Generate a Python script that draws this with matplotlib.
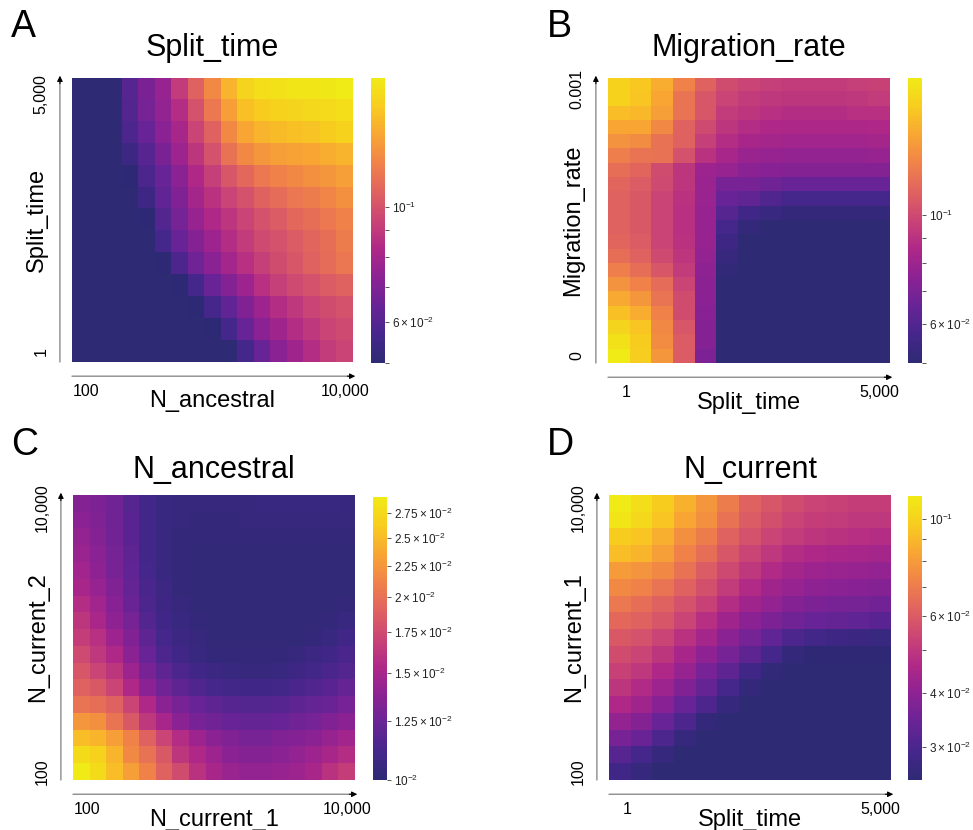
import numpy as np
import matplotlib
matplotlib.use("Agg")
import matplotlib.pyplot as plt
from matplotlib.colors import LogNorm, LinearSegmentedColormap

plt.rcParams['font.family'] = ['Liberation Sans', 'DejaVu Sans']
plt.rcParams['mathtext.fontset'] = 'dejavusans'

# ---------------- data (loss values, in units of 1e-2) ----------------
# Panel A: rows = Split_time (5,000 at top -> 1 at bottom), cols = N_ancestral (100 -> 10,000)
a_loss = [
    [5.00, 5.00, 5.00, 6.05, 6.86, 7.58, 9.06, 10.68, 12.42, 14.44, 16.17, 16.79, 17.00, 17.22, 17.22, 17.44, 17.66],
    [5.00, 5.00, 5.00, 5.97, 6.77, 7.49, 8.50, 10.03, 11.66, 13.39, 14.99, 15.57, 15.96, 16.17, 16.37, 16.58, 16.79],
    [5.00, 5.00, 5.00, 5.82, 6.44, 7.30, 8.07, 9.41, 10.68, 12.42, 13.73, 14.44, 14.81, 14.99, 15.18, 15.57, 15.96],
    [5.00, 5.00, 5.00, 5.39, 6.05, 6.86, 7.77, 8.83, 10.03, 11.37, 12.42, 13.06, 13.39, 13.56, 13.73, 14.08, 14.44],
    [5.00, 5.00, 5.00, 5.03, 5.82, 6.44, 7.30, 8.29, 9.18, 10.15, 10.95, 11.66, 12.11, 12.42, 12.74, 13.06, 13.39],
    [5.00, 5.00, 5.00, 5.00, 5.46, 6.28, 7.03, 7.97, 8.72, 9.41, 10.03, 10.68, 11.09, 11.52, 11.81, 12.27, 12.74],
    [5.00, 5.00, 5.00, 5.00, 5.03, 5.97, 6.77, 7.58, 8.29, 8.83, 9.41, 10.03, 10.41, 10.95, 11.23, 11.66, 12.11],
    [5.00, 5.00, 5.00, 5.00, 5.00, 5.67, 6.44, 7.12, 7.77, 8.50, 9.06, 9.65, 10.03, 10.41, 10.82, 11.23, 11.81],
    [5.00, 5.00, 5.00, 5.00, 5.00, 5.03, 5.82, 6.60, 7.30, 7.97, 8.61, 9.18, 9.78, 10.15, 10.68, 11.09, 11.52],
    [5.00, 5.00, 5.00, 5.00, 5.00, 5.00, 5.03, 5.67, 6.44, 7.12, 7.77, 8.61, 9.18, 9.65, 10.03, 10.41, 10.68],
    [5.00, 5.00, 5.00, 5.00, 5.00, 5.00, 5.00, 5.03, 5.67, 6.28, 7.03, 7.77, 8.50, 8.94, 9.41, 9.78, 10.03],
    [5.00, 5.00, 5.00, 5.00, 5.00, 5.00, 5.00, 5.00, 5.03, 5.67, 6.44, 7.30, 7.87, 8.50, 8.94, 9.41, 9.65],
    [5.00, 5.00, 5.00, 5.00, 5.00, 5.00, 5.00, 5.00, 5.00, 5.02, 5.67, 6.44, 7.30, 7.87, 8.50, 9.06, 9.41],
]
a_xticklabels = ['100', '10,000']
a_yticklabels = ['5,000', '1']
a_lim = [0.050, 0.177]

# Panel B: rows = Migration_rate (0.001 at top -> 0 at bottom), cols = Split_time (1 -> 5,000)
b_loss = [
    [17.06, 16.39, 14.93, 12.72, 11.14, 10.15, 9.75, 9.50, 9.38, 9.38, 9.38, 9.50, 9.63],
    [17.06, 16.17, 14.54, 12.06, 10.56, 9.75, 9.38, 9.25, 9.13, 9.13, 9.13, 9.25, 9.38],
    [15.75, 15.54, 14.15, 12.06, 10.56, 9.38, 9.13, 8.89, 8.77, 8.77, 8.77, 8.89, 8.89],
    [14.54, 14.54, 13.06, 11.14, 10.01, 9.13, 8.77, 8.54, 8.43, 8.43, 8.43, 8.43, 8.54],
    [13.60, 13.24, 11.90, 11.14, 9.50, 8.77, 8.32, 8.21, 8.10, 8.10, 8.10, 8.10, 8.21],
    [12.55, 12.06, 11.90, 10.42, 9.01, 8.32, 7.88, 7.78, 7.67, 7.67, 7.67, 7.67, 7.78],
    [11.74, 11.28, 10.15, 9.13, 7.99, 7.78, 7.47, 7.37, 7.27, 7.27, 7.27, 7.27, 7.27],
    [11.28, 10.84, 10.01, 9.13, 7.88, 6.98, 6.98, 6.71, 6.53, 6.53, 6.53, 6.53, 6.53],
    [11.14, 10.70, 9.75, 9.01, 7.88, 6.53, 6.35, 5.94, 5.71, 5.71, 5.71, 5.71, 5.71],
    [11.14, 10.70, 9.75, 8.89, 7.78, 6.10, 5.56, 5.34, 5.21, 5.21, 5.21, 5.21, 5.21],
    [11.14, 10.70, 9.75, 8.89, 7.78, 5.71, 5.21, 5.00, 5.00, 5.00, 5.00, 5.00, 5.00],
    [11.28, 10.84, 9.75, 9.01, 7.78, 5.49, 5.00, 5.00, 5.00, 5.00, 5.00, 5.00, 5.00],
    [11.74, 11.14, 10.01, 9.13, 7.67, 5.28, 5.00, 5.00, 5.00, 5.00, 5.00, 5.00, 5.00],
    [12.55, 11.74, 10.56, 9.38, 7.56, 5.14, 5.00, 5.00, 5.00, 5.00, 5.00, 5.00, 5.00],
    [13.60, 12.72, 11.59, 9.75, 7.47, 5.00, 5.00, 5.00, 5.00, 5.00, 5.00, 5.00, 5.00],
    [14.73, 13.78, 12.06, 10.15, 7.47, 5.00, 5.00, 5.00, 5.00, 5.00, 5.00, 5.00, 5.00],
    [15.96, 14.93, 12.72, 10.15, 7.37, 5.00, 5.00, 5.00, 5.00, 5.00, 5.00, 5.00, 5.00],
    [17.28, 16.17, 13.06, 10.56, 7.27, 5.00, 5.00, 5.00, 5.00, 5.00, 5.00, 5.00, 5.00],
    [18.23, 16.61, 13.24, 10.84, 7.27, 5.00, 5.00, 5.00, 5.00, 5.00, 5.00, 5.00, 5.00],
    [19.00, 16.83, 13.78, 10.84, 7.07, 5.00, 5.00, 5.00, 5.00, 5.00, 5.00, 5.00, 5.00],
]
b_xticklabels = ['1', '5,000']
b_yticklabels = ['0.001', '0']
b_lim = [0.050, 0.190]

# Panel C: rows = N_current_2 (10,000 at top -> 100 at bottom), cols = N_current_1 (100 -> 10,000)
c_loss = [
    [1.350, 1.321, 1.266, 1.174, 1.101, 1.055, 1.044, 1.044, 1.044, 1.044, 1.044, 1.055, 1.055, 1.055, 1.055, 1.055, 1.044],
    [1.379, 1.335, 1.266, 1.187, 1.101, 1.055, 1.044, 1.033, 1.033, 1.033, 1.044, 1.044, 1.044, 1.044, 1.044, 1.044, 1.044],
    [1.409, 1.350, 1.279, 1.187, 1.101, 1.055, 1.033, 1.033, 1.033, 1.033, 1.033, 1.033, 1.033, 1.033, 1.033, 1.033, 1.033],
    [1.439, 1.379, 1.293, 1.200, 1.101, 1.055, 1.033, 1.022, 1.022, 1.022, 1.022, 1.022, 1.022, 1.022, 1.022, 1.022, 1.022],
    [1.470, 1.394, 1.307, 1.213, 1.113, 1.055, 1.033, 1.022, 1.022, 1.022, 1.022, 1.022, 1.022, 1.022, 1.022, 1.022, 1.022],
    [1.502, 1.424, 1.335, 1.226, 1.125, 1.066, 1.033, 1.022, 1.022, 1.022, 1.022, 1.022, 1.022, 1.022, 1.022, 1.022, 1.022],
    [1.568, 1.470, 1.364, 1.252, 1.137, 1.078, 1.044, 1.022, 1.022, 1.022, 1.022, 1.022, 1.022, 1.022, 1.022, 1.022, 1.033],
    [1.620, 1.519, 1.394, 1.293, 1.162, 1.089, 1.055, 1.033, 1.022, 1.022, 1.022, 1.022, 1.022, 1.022, 1.022, 1.033, 1.055],
    [1.673, 1.585, 1.455, 1.335, 1.200, 1.113, 1.066, 1.044, 1.022, 1.022, 1.022, 1.022, 1.022, 1.022, 1.033, 1.055, 1.089],
    [1.746, 1.637, 1.535, 1.379, 1.239, 1.137, 1.089, 1.055, 1.033, 1.033, 1.033, 1.033, 1.033, 1.044, 1.066, 1.089, 1.125],
    [1.823, 1.709, 1.620, 1.455, 1.307, 1.200, 1.137, 1.089, 1.066, 1.055, 1.044, 1.044, 1.055, 1.078, 1.101, 1.125, 1.162],
    [1.902, 1.842, 1.709, 1.535, 1.379, 1.266, 1.200, 1.149, 1.113, 1.101, 1.089, 1.089, 1.101, 1.125, 1.149, 1.187, 1.226],
    [2.027, 1.984, 1.902, 1.709, 1.535, 1.379, 1.307, 1.239, 1.200, 1.174, 1.162, 1.162, 1.174, 1.200, 1.226, 1.252, 1.293],
    [2.259, 2.210, 2.027, 1.842, 1.637, 1.502, 1.379, 1.307, 1.266, 1.239, 1.226, 1.226, 1.239, 1.266, 1.293, 1.335, 1.379],
    [2.516, 2.462, 2.308, 2.116, 1.902, 1.709, 1.568, 1.455, 1.379, 1.335, 1.307, 1.307, 1.335, 1.350, 1.379, 1.424, 1.470],
    [2.769, 2.682, 2.462, 2.163, 2.005, 1.842, 1.620, 1.535, 1.455, 1.379, 1.350, 1.350, 1.379, 1.409, 1.455, 1.502, 1.568],
    [2.920, 2.769, 2.516, 2.308, 2.116, 1.902, 1.765, 1.602, 1.502, 1.439, 1.409, 1.409, 1.424, 1.455, 1.502, 1.602, 1.673],
]
c_xticklabels = ['100', '10,000']
c_yticklabels = ['10,000', '100']
c_lim = [0.0100, 0.0292]

# Panel D: rows = N_current_1 (10,000 at top -> 100 at bottom), cols = Split_time (1 -> 5,000)
d_loss = [
    [11.30, 10.64, 9.73, 8.75, 7.88, 6.99, 6.20, 5.83, 5.58, 5.34, 5.25, 5.17, 5.17],
    [10.97, 10.33, 9.44, 8.37, 7.65, 6.68, 6.02, 5.66, 5.34, 5.17, 5.10, 5.02, 5.02],
    [9.73, 9.44, 8.63, 7.65, 6.99, 6.20, 5.75, 5.34, 5.10, 4.95, 4.87, 4.80, 4.73],
    [9.16, 8.89, 8.12, 7.20, 6.58, 5.83, 5.34, 5.02, 4.73, 4.59, 4.52, 4.45, 4.38],
    [8.00, 7.77, 7.42, 6.68, 6.02, 5.49, 5.02, 4.66, 4.38, 4.26, 4.19, 4.13, 4.07],
    [7.42, 7.20, 6.77, 6.20, 5.66, 5.10, 4.66, 4.32, 4.13, 4.01, 3.95, 3.89, 3.83],
    [6.89, 6.58, 6.20, 5.75, 5.25, 4.73, 4.32, 4.07, 3.83, 3.72, 3.66, 3.61, 3.55],
    [6.39, 6.20, 5.83, 5.34, 4.80, 4.32, 3.95, 3.72, 3.50, 3.40, 3.35, 3.30, 3.20],
    [5.92, 5.75, 5.34, 4.87, 4.38, 3.95, 3.61, 3.30, 3.01, 2.88, 2.79, 2.75, 2.71],
    [5.58, 5.34, 4.95, 4.45, 4.01, 3.61, 3.25, 2.92, 2.63, 2.56, 2.56, 2.56, 2.56],
    [5.25, 5.02, 4.59, 4.13, 3.66, 3.25, 2.84, 2.60, 2.52, 2.52, 2.52, 2.52, 2.52],
    [4.95, 4.66, 4.26, 3.77, 3.35, 2.92, 2.63, 2.52, 2.52, 2.52, 2.52, 2.52, 2.52],
    [4.59, 4.32, 3.89, 3.40, 3.01, 2.67, 2.52, 2.52, 2.52, 2.52, 2.52, 2.52, 2.52],
    [4.07, 3.83, 3.40, 3.01, 2.63, 2.52, 2.52, 2.52, 2.52, 2.52, 2.52, 2.52, 2.52],
    [3.66, 3.45, 3.01, 2.67, 2.52, 2.52, 2.52, 2.52, 2.52, 2.52, 2.52, 2.52, 2.52],
    [3.15, 2.92, 2.67, 2.52, 2.52, 2.52, 2.52, 2.52, 2.52, 2.52, 2.52, 2.52, 2.52],
    [2.84, 2.67, 2.52, 2.52, 2.52, 2.52, 2.52, 2.52, 2.52, 2.52, 2.52, 2.52, 2.52],
]
d_xticklabels = ['1', '5,000']
d_yticklabels = ['10,000', '100']
d_lim = [0.0252, 0.113]

titles = ['Split_time', 'Migration_rate', 'N_ancestral', 'N_current']
xlabels = ['N_ancestral', 'Split_time', 'N_current_1', 'Split_time']
ylabels = ['Split_time', 'Migration_rate', 'N_current_2', 'N_current_1']
letters = ['A', 'B', 'C', 'D']

# ---------------- style ----------------
W, H = 973, 830
fig = plt.figure(figsize=(W / 100, H / 100), dpi=100)

# plasma-like colormap, slightly washed as in the reference print
cmap = LinearSegmentedColormap.from_list('washed_plasma', [
    (0.00, (46/255, 42/255, 116/255)),
    (0.10, (70/255, 38/255, 140/255)),
    (0.20, (104/255, 36/255, 150/255)),
    (0.30, (140/255, 34/255, 148/255)),
    (0.40, (175/255, 40/255, 136/255)),
    (0.50, (202/255, 68/255, 118/255)),
    (0.60, (224/255, 98/255, 96/255)),
    (0.70, (240/255, 130/255, 74/255)),
    (0.80, (248/255, 165/255, 52/255)),
    (0.90, (248/255, 204/255, 32/255)),
    (1.00, (240/255, 234/255, 22/255)),
])


def px_rect(x0, y0, x1, y1):
    return [x0 / W, 1 - y1 / H, (x1 - x0) / W, (y1 - y0) / H]


ax_boxes = [(72, 78, 353, 362), (608, 78, 890, 363), (73, 495, 355, 780), (609, 495, 891, 780)]
cax_boxes = [(371, 78, 385, 363), (908, 78, 922, 363), (373, 497, 387, 780), (908, 496, 922, 780)]
letter_pos = [(11, 37), (547, 37), (11, 455), (547, 455)]
title_pads = [15.5, 15.5, 12.5, 12.5]

datasets = [a_loss, b_loss, c_loss, d_loss]
xtls = [a_xticklabels, b_xticklabels, c_xticklabels, d_xticklabels]
ytls = [a_yticklabels, b_yticklabels, c_yticklabels, d_yticklabels]
lims = [a_lim, b_lim, c_lim, d_lim]

for i in range(4):
    data = np.array(datasets[i]) * 1e-2
    nr, nc = data.shape
    ax = fig.add_axes(px_rect(*ax_boxes[i]))
    cax = fig.add_axes(px_rect(*cax_boxes[i]))
    im = ax.imshow(data, cmap=cmap, norm=LogNorm(vmin=lims[i][0], vmax=lims[i][1]),
                   aspect='auto', interpolation='nearest', origin='upper')
    for s in ax.spines.values():
        s.set_visible(False)

    ax.set_xticks([0.35, nc - 1])
    ax.set_xticklabels(xtls[i], fontsize=11.5)
    ax.set_yticks([0.25, nr - 1])
    ax.set_yticklabels(ytls[i], fontsize=11.5, rotation=90, va='center')
    ax.tick_params(axis='x', length=0, pad=16)
    ax.tick_params(axis='y', length=0, pad=17)

    ax.set_xlabel(xlabels[i], fontsize=17)
    ax.xaxis.set_label_coords(0.5, -0.1)
    ax.set_ylabel(ylabels[i], fontsize=17)
    ax.yaxis.set_label_coords(-0.085, 0.5)
    ax.set_title(titles[i], fontsize=22, pad=title_pads[i])

    # axis arrows
    ax.annotate('', xy=(1.0, -0.05), xytext=(0.0, -0.05), xycoords='axes fraction',
                arrowprops=dict(arrowstyle='-', color='#8c8c8c', lw=1.0, shrinkA=0, shrinkB=0),
                annotation_clip=False)
    ax.annotate('', xy=(1.008, -0.05), xytext=(0.98, -0.05), xycoords='axes fraction',
                arrowprops=dict(arrowstyle='-|>', color='black', lw=0.8, mutation_scale=8,
                                shrinkA=0, shrinkB=0), annotation_clip=False)
    ax.annotate('', xy=(-0.043, 1.0), xytext=(-0.043, 0.0), xycoords='axes fraction',
                arrowprops=dict(arrowstyle='-', color='#8c8c8c', lw=1.0, shrinkA=0, shrinkB=0),
                annotation_clip=False)
    ax.annotate('', xy=(-0.043, 1.008), xytext=(-0.043, 0.98), xycoords='axes fraction',
                arrowprops=dict(arrowstyle='-|>', color='black', lw=0.8, mutation_scale=8,
                                shrinkA=0, shrinkB=0), annotation_clip=False)

    cb = fig.colorbar(im, cax=cax)
    cb.outline.set_visible(False)
    cax.tick_params(which='both', length=3, width=0.7, color='#555555', labelsize=8.5, pad=2,
                    labelcolor='#222222')

    fig.text(letter_pos[i][0] / W, 1 - letter_pos[i][1] / H, letters[i], fontsize=27,
             ha='left', va='baseline')

fig.savefig('out.png', dpi=100)
